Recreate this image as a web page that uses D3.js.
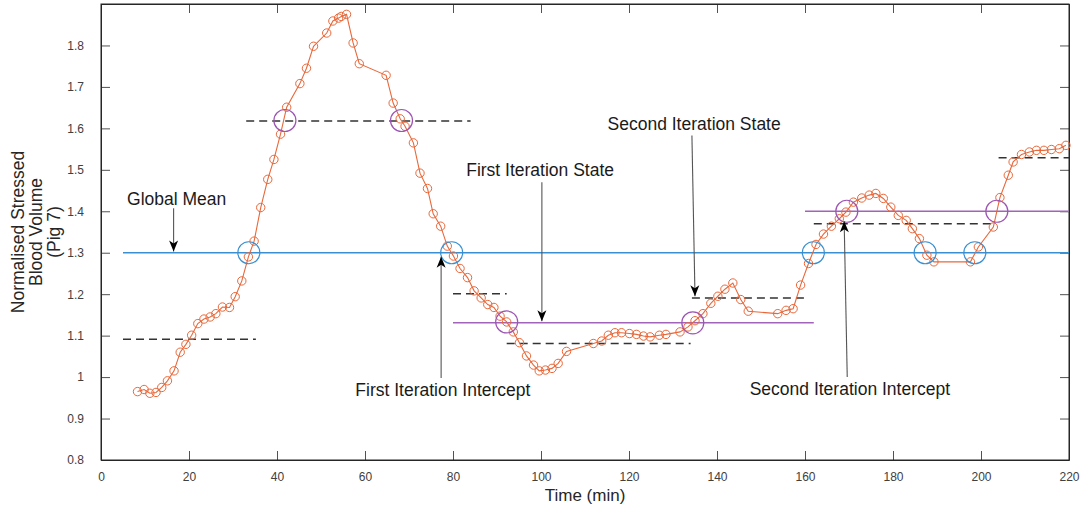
<!DOCTYPE html>
<html>
<head>
<meta charset="utf-8">
<script src="https://cdn.jsdelivr.net/npm/d3@7"></script>
<style>
  body { margin: 0; background: #fff; }
  text { font-family: "Liberation Sans", Arial, sans-serif; }
</style>
</head>
<body>
<script>
// Sample times (min) and normalised stressed blood volume
var times = [8.3, 9.8, 11.1, 12.5, 13.8, 15.1, 16.6, 18.0, 19.3, 20.6, 22.0, 23.4, 24.8, 26.1, 27.6, 29.2,
    30.5, 32.0, 33.5, 34.8, 36.3, 37.9, 39.3, 40.8, 42.2, 45.2, 46.7, 48.3, 51.3, 52.7, 54.0, 54.6, 55.8,
    57.3, 58.7, 64.8, 66.4, 68.0, 69.1, 71.0, 72.5, 74.2, 75.5, 77.2, 78.7, 80.1, 81.6, 83.3, 84.8, 86.4,
    87.9, 89.3, 90.7, 92.2, 93.7, 95.1, 96.7, 98.3, 99.6, 101.0, 102.5, 103.9, 105.8, 111.9, 113.8, 115.3,
    116.8, 118.3, 120.1, 121.7, 123.3, 124.8, 126.9, 128.4, 131.6, 133.4, 135.0, 136.8, 138.6, 140.2, 141.8,
    143.6, 145.4, 147.1, 153.8, 155.7, 157.3, 159.0, 160.8, 162.5, 164.2, 166.0, 167.8, 169.3, 171.0, 172.9,
    174.6, 176.1, 177.8, 179.5, 181.2, 183.0, 184.4, 186.0, 187.7, 189.3, 197.6, 199.4, 202.8, 204.3, 206.2,
    207.3, 209.2, 211.0, 212.6, 214.3, 216.0, 217.8, 219.3];
var volumes = [0.965, 0.970, 0.961, 0.963, 0.975, 0.991, 1.015, 1.060, 1.079, 1.101, 1.129, 1.140, 1.145,
    1.153, 1.169, 1.168, 1.194, 1.232, 1.290, 1.328, 1.409, 1.477, 1.525, 1.586, 1.651, 1.708, 1.745, 1.798,
    1.830, 1.859, 1.866, 1.870, 1.875, 1.806, 1.756, 1.728, 1.661, 1.623, 1.605, 1.565, 1.492, 1.455, 1.394,
    1.364, 1.316, 1.292, 1.262, 1.240, 1.208, 1.191, 1.175, 1.168, 1.147, 1.133, 1.109, 1.083, 1.051, 1.029,
    1.015, 1.017, 1.021, 1.033, 1.062, 1.081, 1.087, 1.101, 1.107, 1.107, 1.105, 1.103, 1.099, 1.097, 1.101,
    1.103, 1.109, 1.121, 1.136, 1.153, 1.178, 1.195, 1.212, 1.227, 1.187, 1.159, 1.153, 1.161, 1.165, 1.222,
    1.274, 1.320, 1.345, 1.364, 1.382, 1.398, 1.422, 1.432, 1.439, 1.443, 1.431, 1.410, 1.390, 1.378, 1.358,
    1.334, 1.294, 1.278, 1.278, 1.314, 1.362, 1.433, 1.487, 1.519, 1.537, 1.543, 1.547, 1.547, 1.549, 1.551,
    1.559];

// Global mean line
var globalMean = { x0: 5, x1: 220, y: 1.30 };

// Iteration state levels (dashed black): [start, end, level]
var dashedSegments = [
    [5, 35.2, 1.091], [33, 84, 1.618], [80, 92.2, 1.201], [92.2, 134, 1.081],
    [134.3, 160.8, 1.191], [162, 203, 1.370], [204, 220, 1.529]
];
// Iteration intercept levels (purple solid)
var purpleSegments = [[80, 162, 1.131], [160, 220, 1.400]];

// Crossing markers
var blueCrossings = [33.6, 79.7, 161.9, 187.3, 198.6];
var purpleCrossings = [[41.8, 1.619], [68.3, 1.619], [92.2, 1.133], [134.5, 1.131], [169.5, 1.400], [203.6, 1.400]];

// Annotations: label, text position, arrow start and end
var annotations = [
    { label: "Global Mean", tx: 17.2, ty: 1.431, x0: 16.5, y0: 1.407, x1: 16.5, y1: 1.303 },
    { label: "First Iteration State", tx: 99.8, ty: 1.499, x0: 100.2, y0: 1.470, x1: 100.2, y1: 1.135 },
    { label: "Second Iteration State", tx: 134.8, ty: 1.610, x0: 134.3, y0: 1.583, x1: 135.0, y1: 1.195 },
    { label: "First Iteration Intercept", tx: 77.7, ty: 0.969, x0: 77.3, y0: 0.998, x1: 77.3, y1: 1.290 },
    { label: "Second Iteration Intercept", tx: 170.2, ty: 0.971, x0: 169.6, y0: 1.000, x1: 168.9, y1: 1.376 }
];

var xTicks = d3.range(0, 221, 20);
var yTicks = [0.8, 0.9, 1, 1.1, 1.2, 1.3, 1.4, 1.5, 1.6, 1.7, 1.8];

var margin = { top: 4, right: 14, bottom: 50, left: 101 },
    width = 1083 - margin.left - margin.right,
    height = 510 - margin.top - margin.bottom;

var x = d3.scaleLinear().domain([0, 220]).range([0, width]);
var y = d3.scaleLinear().domain([0.8, 1.9]).range([height, 0]);

var svg = d3.select("body").append("svg")
    .attr("width", 1083)
    .attr("height", 510);

var defs = svg.append("defs");
defs.append("marker")
    .attr("id", "head")
    .attr("markerUnits", "userSpaceOnUse")
    .attr("viewBox", "-12 -6 14 12")
    .attr("markerWidth", 14)
    .attr("markerHeight", 12)
    .attr("refX", 0)
    .attr("refY", 0)
    .attr("orient", "auto")
    .append("path")
    .attr("d", "M0,0 L-11,-4.5 L-8,0 L-11,4.5 Z")
    .attr("fill", "#000");

var g = svg.append("g")
    .attr("transform", "translate(" + margin.left + "," + margin.top + ")");

// Axes (MATLAB style: ticks inside, box round the plot)
var tickCol = "#262626";
g.append("g")
    .attr("class", "x-axis")
    .attr("transform", "translate(0," + height + ")")
    .call(d3.axisBottom(x).tickValues(xTicks).tickSizeInner(-9).tickSizeOuter(0).tickPadding(12));
g.append("g")
    .attr("class", "y-axis")
    .call(d3.axisLeft(y).tickValues(yTicks).tickFormat(d3.format("~g")).tickSizeInner(-9).tickSizeOuter(0).tickPadding(17));
g.append("g")
    .call(d3.axisTop(x).tickValues(xTicks).tickSizeInner(-9).tickSizeOuter(0).tickFormat(""));
g.append("g")
    .attr("transform", "translate(" + width + ",0)")
    .call(d3.axisRight(y).tickValues(yTicks).tickSizeInner(-9).tickSizeOuter(0).tickFormat(""));

g.selectAll(".domain").attr("stroke", tickCol);
g.selectAll(".tick line").attr("stroke", tickCol).attr("stroke-width", 0.8);
g.selectAll(".tick text").attr("fill", "#404040").style("font-size", "12px");

g.append("rect")
    .attr("width", width).attr("height", height)
    .attr("fill", "none").attr("stroke", tickCol).attr("stroke-width", 1);

// Axis labels
g.append("text")
    .attr("x", width / 2).attr("y", height + 41)
    .attr("text-anchor", "middle")
    .style("font-size", "17px").attr("fill", "#262626")
    .text("Time (min)");

var yLab = svg.append("text")
    .attr("transform", "translate(40,232) rotate(-90)")
    .attr("text-anchor", "middle")
    .style("font-size", "17.5px").attr("fill", "#262626");
["Normalised Stressed", "Blood Volume", "(Pig 7)"].forEach(function (s, i) {
    yLab.append("tspan").attr("x", 0).attr("y", -16 + i * 18).text(s);
});

// Global mean
g.append("line")
    .attr("x1", x(globalMean.x0)).attr("x2", x(globalMean.x1))
    .attr("y1", y(globalMean.y)).attr("y2", y(globalMean.y))
    .attr("stroke", "#3a8fd0").attr("stroke-width", 1.4);

// Purple levels
g.selectAll(".purple-seg")
    .data(purpleSegments)
    .enter().append("line")
    .attr("x1", function (d) { return x(d[0]); })
    .attr("x2", function (d) { return x(d[1]); })
    .attr("y1", function (d) { return y(d[2]); })
    .attr("y2", function (d) { return y(d[2]); })
    .attr("stroke", "#a264ba").attr("stroke-width", 1.6);

// Dashed levels
g.selectAll(".dash-seg")
    .data(dashedSegments)
    .enter().append("line")
    .attr("x1", function (d) { return x(d[0]); })
    .attr("x2", function (d) { return x(d[1]); })
    .attr("y1", function (d) { return y(d[2]); })
    .attr("y2", function (d) { return y(d[2]); })
    .attr("stroke", "#333").attr("stroke-width", 1.5)
    .attr("stroke-dasharray", "8,5");

// Data line
var data = times.map(function (t, i) { return { t: t, v: volumes[i] }; });
var line = d3.line()
    .x(function (d) { return x(d.t); })
    .y(function (d) { return y(d.v); });
g.append("path")
    .datum(data)
    .attr("fill", "none")
    .attr("stroke", "#e8683a")
    .attr("stroke-width", 1.1)
    .attr("d", line);
g.selectAll(".dot")
    .data(data)
    .enter().append("circle")
    .attr("cx", function (d) { return x(d.t); })
    .attr("cy", function (d) { return y(d.v); })
    .attr("r", 4.2)
    .attr("fill", "none")
    .attr("stroke", "#e8683a")
    .attr("stroke-width", 1);

// Crossing circles
g.selectAll(".blue-ring")
    .data(blueCrossings)
    .enter().append("circle")
    .attr("cx", function (d) { return x(d); })
    .attr("cy", y(globalMean.y))
    .attr("r", 11)
    .attr("fill", "none").attr("stroke", "#3a8fd0").attr("stroke-width", 1.2);
g.selectAll(".purple-ring")
    .data(purpleCrossings)
    .enter().append("circle")
    .attr("cx", function (d) { return x(d[0]); })
    .attr("cy", function (d) { return y(d[1]); })
    .attr("r", 11)
    .attr("fill", "none").attr("stroke", "#9c55b3").attr("stroke-width", 1.2);

// Annotations
var ann = g.selectAll(".ann")
    .data(annotations)
    .enter().append("g");
ann.append("line")
    .attr("x1", function (d) { return x(d.x0); })
    .attr("y1", function (d) { return y(d.y0); })
    .attr("x2", function (d) { return x(d.x1); })
    .attr("y2", function (d) { return y(d.y1); })
    .attr("stroke", "#555").attr("stroke-width", 1.1)
    .attr("marker-end", "url(#head)");
ann.append("text")
    .attr("x", function (d) { return x(d.tx); })
    .attr("y", function (d) { return y(d.ty); })
    .attr("dy", "0.35em")
    .attr("text-anchor", "middle")
    .style("font-size", "17.5px")
    .attr("fill", "#1a1a1a")
    .text(function (d) { return d.label; });
</script>
</body>
</html>
